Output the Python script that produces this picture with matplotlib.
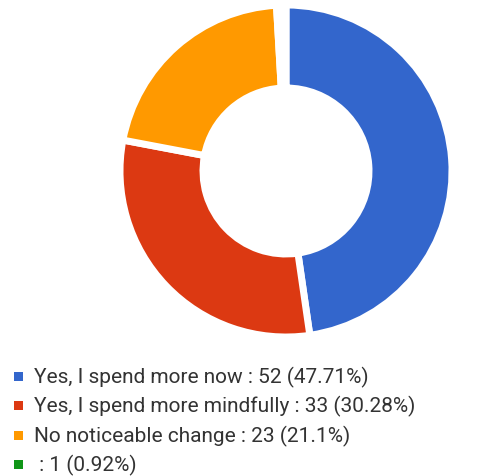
import matplotlib
matplotlib.use("Agg")
import matplotlib.pyplot as plt
from matplotlib.patches import Rectangle

labels = ["Yes, I spend more now", "Yes, I spend more mindfully", "No noticeable change", ""]
counts = [52, 33, 23, 1]
percents = ["47.71%", "30.28%", "21.1%", "0.92%"]
colors = ["#3366CC", "#DC3912", "#FF9900", "#109618"]
# the smallest wedge is drawn in the background colour, as in the original chart
wedge_colors = ["#3366CC", "#DC3912", "#FF9900", "#FFFFFF"]

W, H = 500, 477
fig = plt.figure(figsize=(W / 100, H / 100), dpi=100)
fig.patch.set_facecolor("white")

cx, cy, r = 286, 172, 166
ax = fig.add_axes([(cx - r) / W, (H - cy - r) / H, 2 * r / W, 2 * r / H])
ax.pie(counts, colors=wedge_colors, startangle=90, counterclock=False,
       radius=1.0, wedgeprops=dict(width=0.5, edgecolor="white", linewidth=5))
ax.set_xlim(-1, 1)
ax.set_ylim(-1, 1)
ax.set_aspect("equal")
ax.axis("off")

row_y = [377, 406, 436, 465]
for lab, n, p, c, y in zip(labels, counts, percents, colors, row_y):
    fig.patches.append(Rectangle((14 / W, (H - y - 4.5) / H), 9 / W, 9 / H,
                                 transform=fig.transFigure, facecolor=c,
                                 edgecolor="none"))
    fig.text(34 / W, (H - y) / H, f"{lab} : {n} ({p})", fontsize=15,
             family="Roboto", color="#333333", va="center", ha="left")

fig.savefig("out.png", dpi=100, facecolor="white")
